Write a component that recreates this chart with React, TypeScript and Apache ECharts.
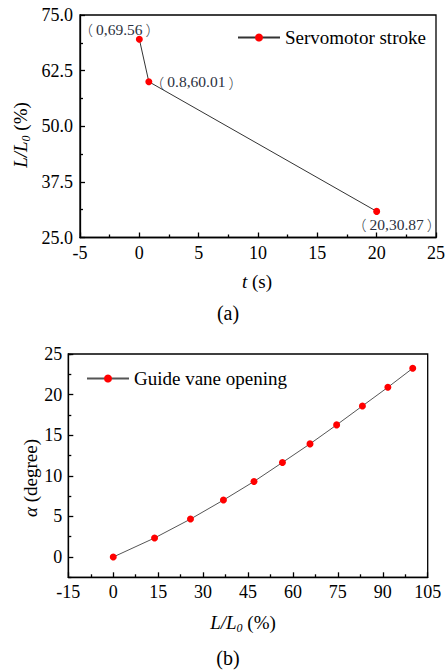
import React, { useEffect, useRef } from 'react';
import * as echarts from 'echarts';

// Panel (a): servomotor stroke vs time
const strokeTimes = [0, 0.8, 20];
const strokeValues = [69.56, 60.01, 30.87];

// Panel (b): guide vane opening vs relative stroke
const openingStroke = [0, 13.8, 25.8, 36.8, 47.0, 56.5, 65.7, 74.6, 83.2, 91.7, 100];
const openingAngle = [0, 2.34, 4.67, 7.01, 9.3, 11.64, 13.93, 16.27, 18.6, 20.9, 23.24];

const seriesNameA = 'Servomotor stroke';
const seriesNameB = 'Guide vane opening';

const serif = 'Liberation Serif, Times New Roman, Noto Sans CJK SC, serif';
const cjk = 'Noto Sans CJK SC, sans-serif';

// label placement per point of panel (a) (styles, not data)
const labelLayoutsA = [
  { position: 'inside', offset: [-20, -10] },
  { position: 'right', distance: -2 },
  { position: 'inside', offset: [20, 13] },
];

const axisLineStyle = { color: '#000', width: 1.3 };

function valueAxis(extra: any) {
  return {
    type: 'value',
    axisLine: { show: true, onZero: false, lineStyle: axisLineStyle },
    axisTick: { show: true, inside: true, length: 5, lineStyle: axisLineStyle },
    minorTick: { show: true, splitNumber: 2, length: 3, lineStyle: axisLineStyle },
    splitLine: { show: false },
    minorSplitLine: { show: false },
    axisLabel: { color: '#000', fontFamily: serif, fontSize: 18 },
    ...extra,
  };
}

export default function App() {
  const ref = useRef<HTMLDivElement>(null);
  useEffect(() => {
    if (!ref.current) return;
    const chart = echarts.init(ref.current, undefined, { renderer: 'svg' });
    const titleRich = {
      i: { fontFamily: serif, fontSize: 19, fontStyle: 'italic', color: '#000', lineHeight: 20 },
      n: { fontFamily: serif, fontSize: 19, color: '#000', lineHeight: 20 },
      s: { fontFamily: serif, fontSize: 12, fontStyle: 'italic', color: '#000', lineHeight: 24, verticalAlign: 'bottom' },
    };
    const labelColor = '#2b3140';
    const labelRich = {
      pl: { fontFamily: cjk, fontSize: 14, color: labelColor, fontWeight: 300, padding: [0, 3, 0, 0] },
      pr: { fontFamily: cjk, fontSize: 14, color: labelColor, fontWeight: 300, padding: [0, 0, 0, 3] },
      d: { fontFamily: serif, fontSize: 15.5, color: labelColor },
    };
    const option: any = {
      animation: false,
      backgroundColor: '#fff',
      grid: [
        { left: 80, top: 15, width: 359.5, height: 222.5, show: true, borderColor: '#000', borderWidth: 1.3 },
        { left: 68.3, top: 354, width: 359.4, height: 223.3, show: true, borderColor: '#000', borderWidth: 1.3 },
      ],
      xAxis: [
        valueAxis({ gridIndex: 0, min: -5, max: 25, interval: 5, axisLabel: { color: '#000', fontFamily: serif, fontSize: 18, margin: 6 } }),
        valueAxis({ gridIndex: 1, min: -15, max: 105, interval: 15, axisLabel: { color: '#000', fontFamily: serif, fontSize: 18, margin: 6 } }),
      ],
      yAxis: [
        valueAxis({
          gridIndex: 0, min: 25, max: 75, interval: 12.5,
          axisLabel: { color: '#000', fontFamily: serif, fontSize: 18, margin: 7, formatter: (v: number) => v.toFixed(1) },
        }),
        valueAxis({
          gridIndex: 1, min: -2.5, max: 25, splitNumber: 5, position: 'left',
          minorTick: { show: false },
          axisLabel: {
            color: '#000', fontFamily: serif, fontSize: 18, margin: 6, showMinLabel: false,
            formatter: (v: number) => (Math.abs(v % 5) < 1e-9 ? String(v) : ''),
          },
        }),
        {
          type: 'value', gridIndex: 1, min: -2.5, max: 25, interval: 5, position: 'left', offset: 0,
          axisLine: { show: false, onZero: false },
          axisTick: { show: true, inside: true, length: 3, lineStyle: axisLineStyle },
          axisLabel: { show: false },
          splitLine: { show: false },
        },
      ],
      legend: [
        {
          data: [seriesNameA], left: 237, top: 28, padding: 0, itemWidth: 42, itemHeight: 10, itemGap: 0,
          textStyle: { fontFamily: serif, fontSize: 19, color: '#000' },
        },
        {
          data: [seriesNameB], left: 86, top: 369, padding: 0, itemWidth: 42, itemHeight: 10, itemGap: 0,
          textStyle: { fontFamily: serif, fontSize: 19, color: '#000' },
        },
      ],
      series: [
        {
          name: seriesNameA,
          type: 'line',
          xAxisIndex: 0,
          yAxisIndex: 0,
          symbol: 'circle',
          symbolSize: 7,
          itemStyle: { color: '#ff0000' },
          lineStyle: { color: '#333', width: 1 },
          data: strokeTimes.map((t, i) => ({
            value: [t, strokeValues[i]],
            label: {
              show: true,
              ...labelLayoutsA[i],
              formatter: `{pl|（}{d|${t},${strokeValues[i]}}{pr|）}`,
              rich: labelRich,
            },
          })),
        },
        {
          name: seriesNameB,
          type: 'line',
          xAxisIndex: 1,
          yAxisIndex: 1,
          symbol: 'circle',
          symbolSize: 7,
          itemStyle: { color: '#ff0000' },
          lineStyle: { color: '#555', width: 1 },
          data: openingStroke.map((x, i) => [x, openingAngle[i]]),
        },
      ],
      graphic: [
        {
          type: 'text', x: 20, y: 135, rotation: Math.PI / 2,
          style: { text: '{i|L/L}{s|0}{n| (%)}', rich: titleRich, align: 'center', verticalAlign: 'middle' },
        },
        {
          type: 'text', x: 257, y: 281,
          style: { text: '{i|t}{n| (s)}', rich: titleRich, align: 'center', verticalAlign: 'middle' },
        },
        {
          type: 'text', x: 228, y: 313,
          style: { text: '(a)', fontFamily: serif, fontSize: 20, fill: '#000', align: 'center', verticalAlign: 'middle' },
        },
        {
          type: 'text', x: 30, y: 478, rotation: Math.PI / 2,
          style: { text: '{i|α}{n| (degree)}', rich: titleRich, align: 'center', verticalAlign: 'middle' },
        },
        {
          type: 'text', x: 243, y: 622,
          style: { text: '{i|L/L}{s|0}{n| (%)}', rich: titleRich, align: 'center', verticalAlign: 'middle' },
        },
        {
          type: 'text', x: 228, y: 658,
          style: { text: '(b)', fontFamily: serif, fontSize: 20, fill: '#000', align: 'center', verticalAlign: 'middle' },
        },
      ],
    };
    chart.setOption(option);
    return () => chart.dispose();
  }, []);
  return (
    <div
      ref={ref}
      style={{ position: 'fixed', left: 0, top: 0, width: 448, height: 672, background: '#fff' }}
    />
  );
}
